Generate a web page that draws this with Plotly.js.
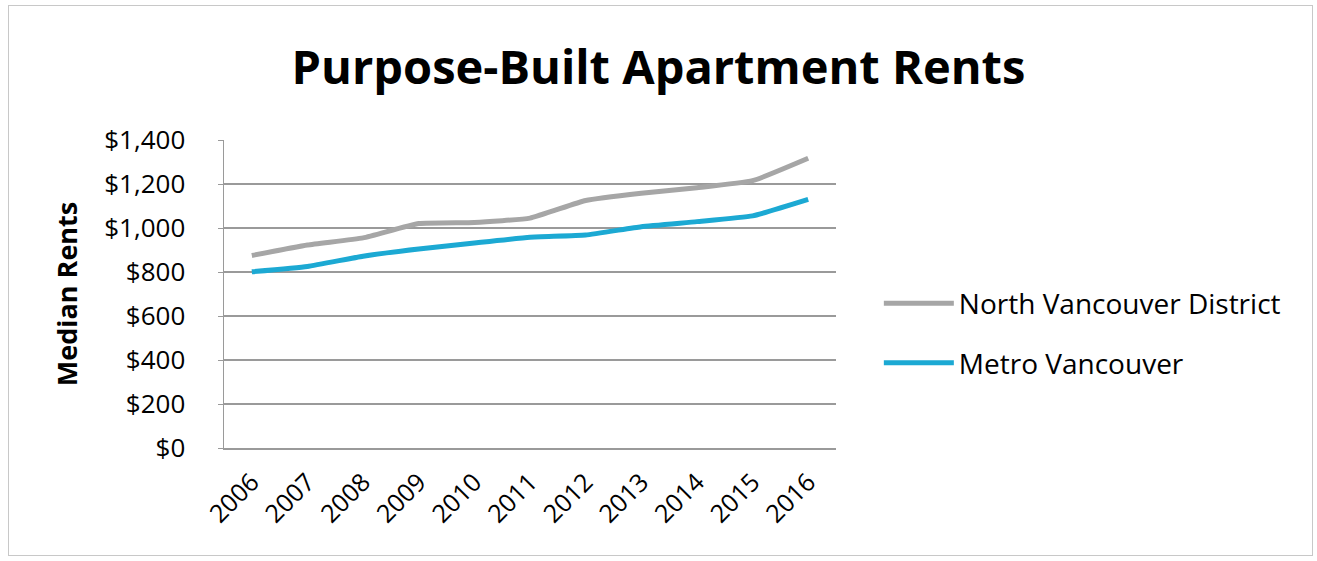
<!DOCTYPE html>
<html>
<head>
<meta charset="utf-8">
<script src="https://cdn.plot.ly/plotly-3.0.1.min.js"></script>
<style>
html,body{margin:0;padding:0;background:#fff;}
#chart{width:1317px;height:561px;position:absolute;left:0;top:0;}
#frame{position:absolute;left:8px;top:5px;width:1303px;height:549px;border:1.5px solid #c8c8c8;pointer-events:none;}
</style>
</head>
<body>
<div id="chart"></div>
<div id="frame"></div>
<script>
var years = ['2006','2007','2008','2009','2010','2011','2012','2013','2014','2015','2016'];
var northVan = [875, 923, 955, 1020, 1025, 1045, 1125, 1158, 1183, 1215, 1317];
var metroVan = [801, 825, 872, 905, 932, 958, 968, 1006, 1029, 1055, 1130];
var yTicks = [0, 200, 400, 600, 800, 1000, 1200, 1400];
var yTickLabels = ['$0', '$200', '$400', '$600', '$800', '$1,000', '$1,200', '$1,400'];

var font = 'Open Sans, sans-serif';
var traces = [
  {x: years, y: northVan, name: 'North Vancouver District', type: 'scatter', mode: 'lines', legendgroup: 'a',
   line: {color: '#a6a6a6', width: 5, shape: 'spline', smoothing: 0.4}},
  {x: years, y: metroVan, name: 'Metro Vancouver', type: 'scatter', mode: 'lines', legendgroup: 'b',
   line: {color: '#1ca9d3', width: 5, shape: 'spline', smoothing: 0.4}}
];
var layout = {
  width: 1317, height: 561,
  margin: {l: 224, r: 481, t: 140, b: 113},
  paper_bgcolor: '#fff', plot_bgcolor: '#fff',
  title: {text: '<b>Purpose-Built Apartment Rents</b>', x: 0.5, xref: 'container', xanchor: 'center',
          y: 0.879, yref: 'container', yanchor: 'middle',
          font: {family: font, size: 47, color: '#000'}},
  xaxis: {type: 'category', range: [-0.5, 10.5], tickangle: -45, showgrid: false, showline: true, linecolor: '#9a9a9a', linewidth: 1.5,
          ticks: '', ticklabelstandoff: 8, tickfont: {family: font, size: 25, color: '#000'}, fixedrange: true},
  yaxis: {range: [0, 1400], tickvals: yTicks, ticktext: yTickLabels, showgrid: true, gridcolor: '#9a9a9a', gridwidth: 1.5,
          showline: true, linecolor: '#9a9a9a', linewidth: 1.5, zeroline: false, ticks: 'outside', ticklen: 5, tickcolor: '#9a9a9a',
          ticklabelstandoff: 27,
          tickfont: {family: font, size: 26, color: '#000'},
          title: {text: '<b>Median Rents</b>', standoff: 19, font: {family: font, size: 27, color: '#000'}}, fixedrange: true},
  legend: {x: 1.07, xanchor: 'left', y: 0.373, yanchor: 'middle', itemwidth: 70, traceorder: 'grouped', tracegroupgap: 20,
           font: {family: font, size: 28, color: '#000'}, bgcolor: 'rgba(0,0,0,0)'},
  showlegend: true
};
Plotly.newPlot('chart', traces, layout, {displayModeBar: false, staticPlot: true});
</script>
</body>
</html>
